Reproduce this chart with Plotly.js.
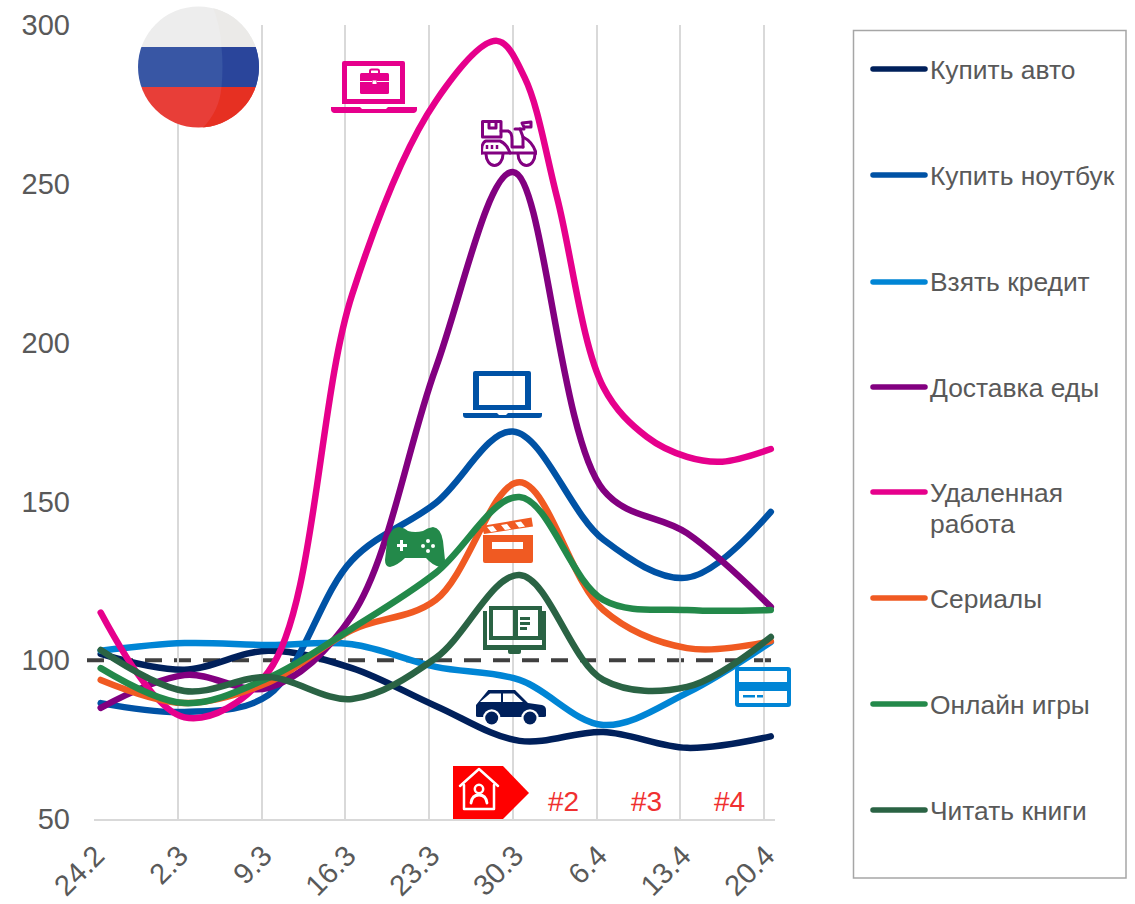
<!DOCTYPE html>
<html><head><meta charset="utf-8">
<script src="https://cdn.plot.ly/plotly-3.0.1.min.js"></script>
<style>html,body{margin:0;padding:0;background:#fff}.js-line{stroke-linecap:round}</style>
</head><body><div id="chart" style="width:1135px;height:904px"></div>
<script>
const tickLabels=["24.2","2.3","9.3","16.3","23.3","30.3","6.4","13.4","20.4"];
const seriesNames=["Купить авто","Купить ноутбук","Взять кредит","Доставка еды","Удаленная<br>работа","Сериалы","Онлайн игры","Читать книги"];
const seriesColors=["#00205B","#0052A5","#0085D5","#820080","#E6008C","#F05A22","#23894A","#2A6344"];
const weekPos=[0.08,1.08,2.08,3.08,4.08,5.08,6.08,7.08,8.08];
const peakPos=[0.08,1.08,2.08,3.08,4.08,5.0,6.08,7.08,8.08];
const remotePos=[0.08,1.08,2.08,3.08,4.08,4.81,5.14,5.53,6.08,6.6,7.08,7.5,8.08];
const avto=[102,97,103,97.5,85.6,74.6,77.4,72.4,76];
const noutbuk=[86.5,83.7,89,131.5,149.5,172,138,126,146.7];
const kredit=[103,105.4,104.8,105,97.9,93.8,79.6,89.7,105.7];
const dostavka=[85,95.3,91.3,114,192,253.7,153.6,140,116.8];
const udalennaya=[115,82,96.3,215,276,295,283.5,245.5,186,170.3,164,162.5,166.5];
const serialy=[93.8,86.5,93,109.5,119,156,115.8,103.8,106];
const igry=[97.5,86.5,94.4,110,127.5,151.4,119,115.8,115.8];
const knigi=[103.2,90.3,94.7,87.8,100.7,126.8,93.8,91.6,107.3];
const allSeries=[avto,noutbuk,kredit,dostavka,udalennaya,serialy,igry,knigi];
const allPos=[weekPos,peakPos,weekPos,peakPos,remotePos,weekPos,weekPos,weekPos];
const legendRows=[69,175,282,387,492,598,704,810];
const legendTextRows=[70,176,282,388,493,599,705,811];
const legendLineGap=31;
const badges=["#2","#3","#4"];
const W=1135,H=904;
const px=x=>x/W, py=y=>1-y/H;
function icon(inner,x,y,w,h){
 const svg=`<svg xmlns="http://www.w3.org/2000/svg" width="${w*2}" height="${h*2}" viewBox="0 0 ${w} ${h}">${inner}</svg>`;
 return {source:"data:image/svg+xml;charset=utf-8,"+encodeURIComponent(svg),xref:"paper",yref:"paper",x:px(x),y:py(y),sizex:w/W,sizey:h/H,xanchor:"left",yanchor:"top",sizing:"stretch",layer:"above"};
}
const flag=icon(`<defs><clipPath id="c"><circle cx="61" cy="61" r="60.5"/></clipPath></defs><g clip-path="url(#c)"><rect width="122" height="41" fill="#EDEDED"/><rect y="41" width="122" height="40" fill="#3856A4"/><rect y="81" width="122" height="41" fill="#E83E38"/><path d="M75 0H122V41H84Q83 20 75 0Z" fill="#EBEAE8"/><path d="M84 41H122V81H84Q86 60 84 41Z" fill="#2A459B"/><path d="M84 81H122V122H65Q82 105 84 81Z" fill="#E63022"/></g>`,137.5,6,122,122);
const pinkLaptop=icon(`<g fill="#E6008C"><path fill-rule="evenodd" d="M13 0H72a2 2 0 0 1 2 2V43H11V2a2 2 0 0 1 2-2ZM16 5V38H69V5Z"/><path d="M0 46H29l2 2H55l2-2H86V48a4 4 0 0 1-3 4H3a4 4 0 0 1-3-4Z"/><rect x="29" y="12" width="29" height="21" rx="1.500"/></g><path d="M39 12V10a1.500 1.500 0 0 1 1.500-1.500H46.500a1.500 1.500 0 0 1 1.500 1.500V12" fill="none" stroke="#E6008C" stroke-width="2"/><path d="M29 20.500H41M46 20.500H58" stroke="#fff" stroke-width="1"/><rect x="41.500" y="19.500" width="4" height="3.500" fill="#fff"/>`,331,61,86,52);
const scooter=icon(`<g fill="none" stroke="#820080" stroke-width="3" stroke-linejoin="round" stroke-linecap="round"><rect x="1.500" y="1.500" width="18.500" height="15.500"/><path d="M8 1.500V8H15V1.500"/><path d="M20 11H27Q31 12 31 20V27H42"/><path d="M34 9H43"/><path d="M41 3L50 2V7H43Z"/><path d="M39 9L42 17Q42 24 42 27"/><path d="M42 17Q52 22 55 33"/><path d="M0.500 33H55"/><path d="M0.500 33Q0.500 22 5 21H19Q26 24 29 33"/><path d="M5 34A8.500 11.500 0 0 0 22 34"/><path d="M37 34A8.500 11.500 0 0 0 54 34"/></g><g stroke="#820080" stroke-width="2.500"><path d="M6 25V29M11 25V29M16 25V29"/></g>`,481,120,56,47);
const blueLaptop=icon(`<g fill="#0052A5"><path fill-rule="evenodd" d="M12 0H66a2 2 0 0 1 2 2V39H10V2a2 2 0 0 1 2-2ZM16 5V34H62V5Z"/><path d="M0 42H34l2 2H43l2-2H79V44a3 3 0 0 1-3 3H3a3 3 0 0 1-3-3Z"/></g>`,463,371,79,47);
const gamepad=icon(`<path d="M14 0Q20 1 23 4Q30 6 38 4Q42 1 48 0Q56 1 58 14L60 33Q59 40 55 40Q47 38 41 31H20Q13 38 5 40Q0 40 0 33L2 15Q5 1 14 0Z" fill="#23894A"/><path d="M12 17H15V13H18V17H22V20H18V24H15V20H12Z" fill="#fff"/><g fill="#fff"><circle cx="43" cy="14" r="2"/><circle cx="43" cy="24" r="2"/><circle cx="38" cy="19" r="2"/><circle cx="48" cy="19" r="2"/></g>`,385,527,60,40);
const clapper=icon(`<g fill="#F05A22"><path fill-rule="evenodd" d="M0.500 9L50.500 0.500L52 9.500L3 17ZM6 10L10 15L16 14L12 9ZM20 8L24 13L30 12L26 7ZM34 5.500L38 10.500L44 9.500L40 4.500Z"/><path fill-rule="evenodd" d="M2 18H52V44a2 2 0 0 1-2 2H4a2 2 0 0 1-2-2ZM11 25V32H42V25Z"/></g>`,481,517,53,46);
const book=icon(`<g fill="#2A6344"><path fill-rule="evenodd" d="M6 0H59V34H6ZM10 4V30H30V4ZM35 4V30H55V4Z"/><rect x="0" y="5" width="4" height="38"/><rect x="59" y="5" width="4" height="38"/><rect x="0" y="39" width="63" height="5"/><path d="M25 44H38V46a2 2 0 0 1-2 2H27a2 2 0 0 1-2-2Z"/><rect x="37" y="11" width="10" height="3"/><rect x="37" y="16" width="10" height="3"/><rect x="37" y="21" width="7" height="3"/></g>`,483,606,63,48);
const car=icon(`<path fill-rule="evenodd" d="M12.300 0H39L52 13L66 15Q70 16 70 20V26Q70 27 68 27H2Q0 27 0 26V15ZM4 12H25V3.500H14ZM27 12H47L38 3.500H27Z" fill="#00205B"/><circle cx="15.700" cy="28" r="8.700" fill="#fff"/><circle cx="54" cy="28" r="8.700" fill="#fff"/><circle cx="15.700" cy="28" r="6.500" fill="#00205B"/><circle cx="54" cy="28" r="6.500" fill="#00205B"/>`,476,690,70,36);
const card=icon(`<path fill-rule="evenodd" d="M3 0H53a3 3 0 0 1 3 3V37a3 3 0 0 1-3 3H3a3 3 0 0 1-3-3V3a3 3 0 0 1 3-3ZM4 4V15H52V4ZM4 24V36H52V24Z" fill="#0085D5"/><rect x="8" y="28" width="12" height="2.500" fill="#0085D5"/><rect x="22" y="28" width="6" height="2.500" fill="#0085D5"/>`,735,667,56,40);
const homeTag=icon(`<path d="M0 0H50L76 27L50 53H0Z" fill="#F00"/><g fill="none" stroke="#fff" stroke-linejoin="round" stroke-linecap="round"><path d="M7 20L26 3L45 20" stroke-width="2.500"/><path d="M11 19V43H41V19" stroke-width="2.500"/><circle cx="26" cy="23" r="4.200" stroke-width="2.500"/><path d="M18 37Q19 29 26 29Q33 29 34 37" stroke-width="2.800"/></g>`,453,766,76,53);
const traces=allSeries.map((vals,i)=>({x:allPos[i],y:vals,mode:"lines",type:"scatter",line:{color:seriesColors[i],width:6.5,shape:"spline",smoothing:1},hoverinfo:"skip",showlegend:false}));
seriesNames.forEach((n,i)=>traces.push({x:[873,925],y:[legendRows[i],legendRows[i]],xaxis:"x2",yaxis:"y2",mode:"lines",type:"scatter",line:{color:seriesColors[i],width:5.5},hoverinfo:"skip",showlegend:false}));
const textColor="#595959";
const annotations=[];
seriesNames.forEach((n,i)=>n.split("<br>").forEach((part,k)=>annotations.push({text:part,xref:"x2",yref:"y2",x:930,y:legendTextRows[i]+k*legendLineGap,xanchor:"left",yanchor:"middle",align:"left",showarrow:false,font:{family:"Liberation Sans, Arial",size:26.4,color:textColor},xshift:-2})));
badges.forEach((b,i)=>annotations.push({text:b,xref:"x",yref:"paper",x:[5.6,6.6,7.59][i],y:py(801),xanchor:"center",yanchor:"middle",showarrow:false,font:{family:"Liberation Sans, Arial",size:28,color:"#F03030"}}));
const layout={width:W,height:H,autosize:false,margin:{l:0,r:0,t:0,b:0,pad:0},paper_bgcolor:"#fff",plot_bgcolor:"rgba(0,0,0,0)",showlegend:false,
 xaxis:{domain:[px(94),px(775)],range:[0,8.13],tickmode:"array",tickvals:[0,1,2,3,4,5,6,7,8],ticktext:tickLabels,tickangle:-45,showgrid:true,gridcolor:"#D9D9D9",gridwidth:2,zeroline:false,showline:true,linecolor:"#D9D9D9",linewidth:2,ticks:"",ticklen:0,ticklabelstandoff:6,ticklabelshift:2,tickfont:{family:"Liberation Sans, Arial",size:29,color:textColor},anchor:"y",fixedrange:true},
 yaxis:{domain:[py(819),py(25)],range:[50,300],tickmode:"array",tickvals:[50,100,150,200,250,300],showgrid:false,zeroline:false,showline:false,ticks:"",ticklabelstandoff:23,tickfont:{family:"Liberation Sans, Arial",size:29,color:textColor},anchor:"x",fixedrange:true},
 xaxis2:{domain:[px(853),px(1126)],range:[853,1126],visible:false,anchor:"y2",fixedrange:true},
 yaxis2:{domain:[py(878),py(30)],range:[878,30],visible:false,anchor:"x2",fixedrange:true},
 shapes:[
  {type:"line",xref:"paper",yref:"y",x0:px(87),x1:px(775),y0:100,y1:100,layer:"below",line:{color:"#404040",width:4,dash:"17px,12px"}},
  {type:"rect",xref:"paper",yref:"paper",x0:px(853.500),x1:px(1126),y0:py(30.500),y1:py(878),layer:"below",line:{color:"#A6A6A6",width:1.500},fillcolor:"rgba(0,0,0,0)"}
 ],
 annotations:annotations,
 images:[flag,pinkLaptop,scooter,blueLaptop,gamepad,clapper,book,car,card,homeTag]
};
Plotly.newPlot("chart",traces,layout,{displayModeBar:false,staticPlot:true});
</script></body></html>
